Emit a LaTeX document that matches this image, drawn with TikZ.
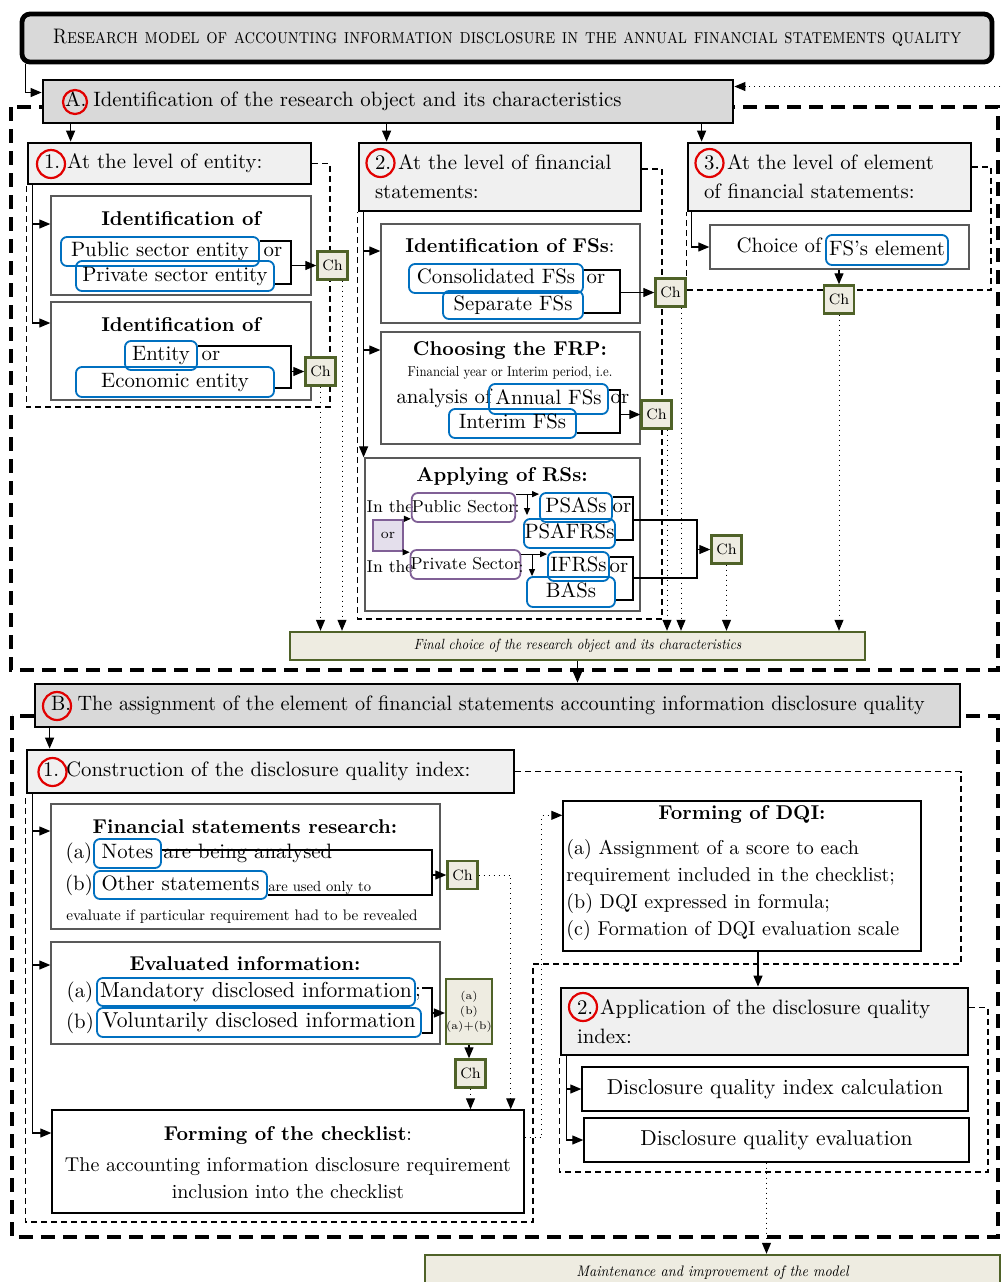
\documentclass[tikz,border=0pt]{standalone}
\usepackage{tikz}
\usetikzlibrary{arrows.meta,positioning,calc,fit,backgrounds}
\usepackage{xcolor}
\definecolor{hdgray}{RGB}{217,217,217}
\definecolor{hdlight}{RGB}{240,240,240}
\definecolor{chfill}{RGB}{238,236,225}
\definecolor{chgreen}{RGB}{79,98,40}
\definecolor{bxblue}{RGB}{0,112,192}
\definecolor{orpurple}{RGB}{128,96,150}
\definecolor{orfill}{RGB}{228,223,236}
\definecolor{ringred}{RGB}{225,0,0}

\begin{document}
\begin{tikzpicture}[x=0.5pt, y=-0.5pt,
    titlebox/.style={draw, line width=2.4pt, rounded corners=4pt, fill=hdgray, inner sep=0pt},
    hdr/.style={draw, line width=1.4pt, fill=hdlight, align=left, inner xsep=8pt, inner ysep=0pt,
        font={\fontsize{10.4}{14.5}\selectfont}},
    ring/.style={circle, draw=ringred, line width=1.1pt, minimum size=14pt, inner sep=0pt},
    inbox/.style={draw=black!65, line width=0.7pt, fill=white, inner sep=0pt,
        font={\fontsize{10.8}{13}\selectfont}},
    blu/.style={draw=bxblue, line width=0.9pt, rounded corners=3pt, inner sep=0pt,
        text height=1.5ex, text depth=.25ex, font={\fontsize{10.4}{12}\selectfont}},
    pur/.style={draw=orpurple, line width=0.9pt, rounded corners=3pt, inner sep=0pt,
        text height=1.5ex, text depth=.25ex, font={\fontsize{8.6}{10}\selectfont}},
    orbox/.style={draw=orpurple, line width=1.2pt, fill=orfill, minimum width=15pt,
        minimum height=15.5pt, inner sep=0pt, font={\fontsize{7}{8}\selectfont}},
    chbox/.style={draw=chgreen, line width=1.2pt, fill=chfill, minimum width=15pt,
        minimum height=14pt, inner sep=0pt, font={\fontsize{7.5}{9}\selectfont}},
    fbox/.style={draw=chgreen, line width=1.2pt, fill=chfill, inner sep=0pt,
        font={\fontsize{10}{12}\selectfont\itshape}},
    txt/.style={inner sep=0pt, text height=1.5ex, text depth=.25ex, font={\fontsize{10.4}{12}\selectfont}},
    rstxt/.style={txt, font={\fontsize{8.6}{10}\selectfont}},
    ttl/.style={inner sep=0pt, text height=1.5ex, text depth=.25ex, font={\fontsize{10}{12}\selectfont\bfseries}},
    note/.style={inner sep=0pt, font={\fontsize{10}{12}\selectfont}},
    mtxt/.style={inner sep=0pt, font={\fontsize{10}{13.5}\selectfont}},
    arr/.style={-{Triangle[length=5.5pt,width=4.5pt]}, line width=0.6pt},
    sarr/.style={-{Triangle[length=3.5pt,width=3pt]}, line width=0.5pt},
    conn/.style={line width=0.6pt},
    dotarr/.style={dotted, line width=0.5pt, -{Triangle[length=5.5pt,width=4.5pt]}},
    grpdash/.style={line width=0.6pt, dash pattern=on 3pt off 2pt},
    bigdash/.style={line width=1.8pt, dash pattern=on 7pt off 4pt}
]
    \useasboundingbox (0,0) rectangle (1001,1282);

    % Title and part A
    \node[titlebox, minimum width=485pt, minimum height=24pt] (title) at (507,38)
        {\scalebox{0.85}[1]{\fontsize{10.5}{12}\selectfont\textsc{Research model of accounting information disclosure in the annual financial statements quality}}};
    \node[hdr, fill=hdgray, inner xsep=11pt, text width=323pt, minimum height=21.5pt] (hdA) at (388,101.5)
        {A.\ Identification of the research object and its characteristics};
    \node[ring, minimum size=12pt] (ringA) at (75,102) {};

    % Three levels
    \node[hdr, text width=125.5pt, minimum height=20.5pt] (hdOne) at (169.5,163.5) {1.\ At the level of entity:};
    \node[hdr, text width=125pt, minimum height=34pt] (hdTwo) at (500,177) {2.\ At the level of financial\\statements:};
    \node[hdr, text width=125.5pt, minimum height=34pt] (hdThree) at (829.5,177) {3.\ At the level of element\\of financial statements:};
    \node[ring] (ringOne) at (51,164) {};
    \node[ring] (ringTwo) at (380.5,163) {};
    \node[ring] (ringThree) at (709.5,163) {};

    % Level of entity
    \node[inbox, fit={(51,196) (311,295)}] (idEnt) {};
    \node[ttl] (idEntT) at (181,220) {Identification of};
    \node[blu, minimum width=99pt, minimum height=14.5pt] (bPub) at (160,251.5) {Public sector entity};
    \node[txt] (orPub) at (273,251) {or};
    \node[blu, minimum width=99pt, minimum height=15pt] (bPriv) at (175,276) {Private sector entity};
    \node[inbox, fit={(51,302) (311,400)}] (idEco) {};
    \node[ttl] (idEcoT) at (181,326) {Identification of};
    \node[blu, minimum width=36pt, minimum height=14.5pt] (bEnt) at (161,355.5) {Entity};
    \node[txt] (orEnt) at (211,355) {or};
    \node[blu, minimum width=99pt, minimum height=15pt] (bEco) at (175,382) {Economic entity};
    \node[chbox] (chA) at (332.5,265.5) {Ch};
    \node[chbox] (chB) at (320.5,371.5) {Ch};

    % Level of financial statements
    \node[inbox, fit={(381,224) (640,323)}] (idFS) {};
    \node[ttl] (idFST) at (510,247) {Identification of FSs\textmd{:}};
    \node[blu, minimum width=87pt, minimum height=14.5pt] (bCons) at (496,278.5) {Consolidated FSs};
    \node[txt] (orCons) at (596,278) {or};
    \node[blu, minimum width=70pt, minimum height=14pt] (bSep) at (513,305) {Separate FSs};
    \node[inbox, fit={(381,332) (640,444)}] (frp) {};
    \node[ttl] (frpT) at (510,350) {Choosing the FRP:};
    \node[note] (frpNote) at (510,373) {\scalebox{0.64}[0.72]{Financial year or Interim period, i.e.}};
    \node[txt] (frpAn) at (444,398) {analysis of};
    \node[blu, minimum width=59.5pt, minimum height=15pt] (bAnn) at (548.5,399) {Annual FSs};
    \node[txt] (orAnn) at (620,398) {or};
    \node[blu, minimum width=63.5pt, minimum height=14.5pt] (bInt) at (512.5,423.5) {Interim FSs};
    \node[chbox] (chC) at (670.5,292.5) {Ch};
    \node[chbox] (chD) at (656.5,414.5) {Ch};

    % Reporting standards
    \node[inbox, fit={(365,458) (640,611)}] (rs) {};
    \node[ttl] (rsT) at (502,476) {Applying of RSs:};
    \node[rstxt] (inPub) at (390,507) {In the};
    \node[pur, minimum width=50.5pt, minimum height=14.5pt] (pPub) at (463.5,507.5) {Public Sector};
    \node[rstxt] (colPub) at (517,507) {:};
    \node[orbox] (pOr) at (388,535.5) {or};
    \node[rstxt] (inPriv) at (390,567) {In the};
    \node[pur, minimum width=52.5pt, minimum height=14.5pt] (pPriv) at (465.5,564.5) {Private Sector};
    \node[rstxt] (colPriv) at (521,567) {:};
    \node[blu, minimum width=36pt, minimum height=14.5pt] (bPSAS) at (576,507.5) {PSASs};
    \node[txt] (orPSAS) at (622,507) {or};
    \node[blu, minimum width=45.5pt, minimum height=14.5pt] (bPSAF) at (569.5,533.5) {PSAFRSs};
    \node[blu, minimum width=30.5pt, minimum height=14.5pt] (bIFRS) at (578.5,566.5) {IFRSs};
    \node[txt] (orIFRS) at (619,567) {or};
    \node[blu, minimum width=44pt, minimum height=15pt] (bBAS) at (571,592) {BASs};
    \node[chbox] (chE) at (726.5,549.5) {Ch};

    % Level of element
    \node[inbox, fit={(710,225) (969,269)}] (elem) {};
    \node[txt] (elemT) at (779,247) {Choice of};
    \node[blu, minimum width=61pt, minimum height=15pt] (bFSel) at (887,250) {FS's element};
    \node[chbox] (chH) at (839,299.5) {Ch};

    \node[fbox, minimum width=287.5pt, minimum height=14pt] (fA) at (577.5,646)
        {\scalebox{0.66}[0.74]{Final choice of the research object and its characteristics}};

    % Part B
    \node[hdr, fill=hdgray, text width=446.5pt, minimum height=21.5pt] (hdB) at (497.5,705.5)
        {\scalebox{0.97}[1]{B.\ The assignment of the element of financial statements accounting information disclosure quality}};
    \node[ring] (ringB) at (57,706) {};
    \node[hdr, text width=227.5pt, minimum height=21.5pt] (hdBOne) at (270.5,771.5)
        {1.\ Construction of the disclosure quality index:};
    \node[ring] (ringBOne) at (52.5,772) {};

    % Index construction
    \node[inbox, fit={(51,804) (440,929)}] (fsr) {};
    \node[ttl] (fsrT) at (245,828) {Financial statements research:};
    \node[txt] (fsrA) at (79,853) {(a)};
    \node[blu, minimum width=33.5pt, minimum height=14.5pt] (bNotes) at (127.5,853.5) {Notes};
    \node[txt, anchor=west] (fsrAn) at (163,853) {are being analysed};
    \node[txt] (fsrB) at (79,885) {(b)};
    \node[blu, minimum width=86.5pt, minimum height=14pt] (bOther) at (180.5,885) {Other statements};
    \node[note, anchor=west] (fsrUse) at (268,888) {\scalebox{0.73}{are used only to}};
    \node[note] (fsrEval) at (242,917) {\scalebox{0.76}{evaluate if particular requirement had to be revealed}};
    \node[chbox] (chF) at (462.5,875) {Ch};

    \node[inbox, fit={(51,942) (440,1044)}] (evi) {};
    \node[ttl] (eviT) at (245,965) {Evaluated information:};
    \node[txt] (eviA) at (80,992) {(a)};
    \node[blu, minimum width=159pt, minimum height=14pt, font={\fontsize{10.8}{12}\selectfont}] (bMand) at (256,992) {Mandatory disclosed information};
    \node[txt] (eviSc) at (418,991) {;};
    \node[txt] (eviB) at (80,1023) {(b)};
    \node[blu, minimum width=162pt, minimum height=14.5pt, font={\fontsize{10.8}{12}\selectfont}] (bVol) at (259,1022.5) {Voluntarily disclosed information};
    \node[chbox, minimum width=22pt, minimum height=32.5pt, align=center, font={\fontsize{5.5}{7.5}\selectfont}] (abc) at (469,1011.5) {(a)\\(b)\\(a)+(b)};
    \node[chbox] (chG) at (470.5,1073.5) {Ch};

    \node[inbox, draw=black, fit={(52,1110) (524,1213)}] (chk) {};
    \node[ttl] (chkT) at (288,1135) {Forming of the checklist\textmd{:}};
    \node[mtxt, align=center] (chkTxt) at (288,1178) {The accounting information disclosure requirement\\inclusion into the checklist};

    \node[inbox, draw=black, fit={(563,801) (921,951)}] (dqi) {};
    \node[ttl] (dqiT) at (742,814) {Forming of DQI:};
    \node[mtxt, align=left, anchor=west] (dqiTxt) at (566,890) {(a) Assignment of a score to each\\requirement included in the checklist;\\(b) DQI expressed in formula;\\(c) Formation of DQI evaluation scale};

    % Index application
    \node[hdr, text width=187.5pt, minimum height=33.5pt] (hdBTwo) at (764.5,1021.5) {2.\ Application of the disclosure quality\\index:};
    \node[ring] (ringBTwo) at (583,1007) {};
    \node[inbox, draw=black, minimum width=193pt, minimum height=22pt] (calc) at (775,1089) {Disclosure quality index calculation};
    \node[inbox, draw=black, minimum width=192.5pt, minimum height=22pt] (evq) at (776.5,1140) {Disclosure quality evaluation};

    \node[fbox, minimum width=287.5pt, minimum height=17.5pt] (maint) at (712.5,1272.5)
        {\scalebox{0.71}[0.76]{Maintenance and improvement of the model}};

    % Flow of part A
    \draw[arr] ([xshift=3pt]title.south west) |- ([yshift=4.5pt]hdA.west);
    \coordinate (aOne) at ([xshift=22pt]hdOne.north west);
    \coordinate (aTwo) at ([xshift=14.5pt]hdTwo.north west);
    \coordinate (aThree) at ([xshift=7.5pt]hdThree.north west);
    \draw[arr] (aOne |- hdA.south) -- (aOne);
    \draw[arr] (aTwo |- hdA.south) -- (aTwo);
    \draw[arr] (aThree |- hdA.south) -- (aThree);

    \coordinate (vOne) at ([xshift=3pt]hdOne.south west);
    \draw[arr] (vOne) |- (idEnt.west |- 0,224);
    \draw[arr] (vOne) |- (idEco.west |- 0,323);
    \coordinate (vTwo) at ([xshift=3pt]hdTwo.south west);
    \draw[arr] (vTwo) |- (idFS.west |- 0,251);
    \draw[arr] (vTwo) |- (frp.west |- 0,350);
    \draw[arr] (vTwo) -- (vTwo |- rs.north);
    \coordinate (vThree) at ([xshift=2.5pt]hdThree.south west);
    \draw[arr] (vThree) |- (elem.west);

    % Choice brackets
    \coordinate (brA) at (291,265.5);
    \draw[conn] (bPub.east |- 0,241) -| (brA) |- (bPriv.east |- 0,284);
    \draw[arr] (brA) -- (chA);
    \coordinate (brB) at (291,371.5);
    \draw[conn] (bEnt.east |- 0,346) -| (brB) |- (bEco.east |- 0,388);
    \draw[arr] (brB) -- (chB);
    \coordinate (brC) at (620,292.5);
    \draw[conn] (bCons.east |- 0,270) -| (brC) |- (bSep.east |- 0,313);
    \draw[arr] (brC) -- (chC);
    \coordinate (brD) at (620,414.5);
    \draw[conn] (bAnn.east |- 0,390) -| (brD) |- (bInt.east |- 0,433);
    \draw[arr] (brD) -- (chD);

    \draw[sarr] (pOr.north east) -- (pPub.west |- pOr.north);
    \draw[sarr] (pOr.south east) -- (pPriv.west |- pOr.south);
    \coordinate (tPub) at ([yshift=-1pt]pPub.north east);
    \draw[sarr] (tPub) -- (bPSAS.west |- tPub);
    \draw[sarr] (tPub -| 527,0) -- ++(0,-10.5pt);
    \coordinate (tPriv) at ([yshift=-2.5pt]pPriv.north east);
    \draw[sarr] (tPriv) -- (bIFRS.west |- tPriv);
    \draw[sarr] (tPriv -| 532,0) -- ++(0,-11pt);
    \coordinate (brPS) at (633,520);
    \draw[conn] (bPSAS.east |- 0,497) -| (brPS) |- (bPSAF.east |- 0,540);
    \coordinate (brPr) at (633,578);
    \draw[conn] (bIFRS.east |- 0,557) -| (brPr) |- (bBAS.east |- 0,600);
    \coordinate (brE) at (697,549.5);
    \draw[conn] (brPS) -| (brE) |- (brPr);
    \draw[arr] (brE) -- (chE);
    \draw[arr] (chH.north |- elem.south) -- (chH.north);

    % Towards the final choice
    \coordinate (dA) at ([xshift=4.75pt]chA.south);
    \coordinate (dC) at ([xshift=5.25pt]chC.south);
    \coordinate (dD) at ([xshift=5.25pt]chD.south);
    \draw[dotarr] (chB.south) -- (chB.south |- fA.north);
    \draw[dotarr] (dA) -- (dA |- fA.north);
    \draw[dotarr] (dD) -- (dD |- fA.north);
    \draw[dotarr] (dC) -- (dC |- fA.north);
    \draw[dotarr] (chE.south) -- (chE.south |- fA.north);
    \draw[dotarr] (chH.south) -- (chH.south |- fA.north);
    \draw[arr] (fA.south) -- (fA.south |- hdB.north);

    % Flow of part B
    \coordinate (aB) at ([xshift=12pt]hdBOne.north west);
    \draw[arr] (aB |- hdB.south) -- (aB);
    \coordinate (vBOne) at ([xshift=3.5pt]hdBOne.south west);
    \draw[arr] (vBOne) |- (fsr.west |- 0,831);
    \draw[arr] (vBOne) |- (evi.west |- 0,965);
    \draw[arr] (vBOne) |- (chk.west |- 0,1133);
    \coordinate (brF) at (432,875);
    \draw[conn] (bNotes.east |- 0,850) -| (brF) |- (bOther.east |- 0,895);
    \draw[arr] (brF) -- (chF);
    \coordinate (brG) at (432,1013);
    \draw[conn] (bVol.east |- 0,988) -| (brG) |- (bVol.east |- 0,1033);
    \draw[arr] (brG) -- (abc.west |- brG);
    \draw[arr] (abc.south) -- (abc.south |- chG.north);
    \draw[dotarr] (chG.south) -- (chG.south |- chk.north);
    \draw[dotarr] (chF.east) -| ([xshift=-7pt]chk.north east);
    \draw[dotarr] ([yshift=12pt]chk.east) -- ++(8.5pt,0) |- ([yshift=-7.5pt]dqi.north west);
    \coordinate (vDQI) at ([xshift=8pt]dqi.south);
    \draw[arr] (vDQI) -- (vDQI |- hdBTwo.north);
    \coordinate (vBTwo) at ([xshift=3.5pt]hdBTwo.south west);
    \draw[arr] (vBTwo) |- (calc.west);
    \draw[arr] (vBTwo) |- (evq.west);
    \coordinate (vEvq) at ([xshift=-5pt]evq.south);
    \draw[dotarr] (vEvq) -- (vEvq |- maint.north);

    % Feedback loop
    \draw[dotarr] (maint.east) -- ++(12pt,0) |- ([yshift=7.5pt]hdA.east);

    % Frames
    \begin{scope}[on background layer]
        \draw[bigdash] (11,107) rectangle (998,670);
        \draw[bigdash] (12,716) rectangle (998,1237);
        \draw[grpdash] (hdOne.east) -| (330,407) -| (hdOne.south west);
        \draw[grpdash] ([yshift=4pt]hdTwo.east) -| (662,619) -| (hdTwo.south west);
        \draw[grpdash] ([yshift=5pt]hdThree.east) -| (991,290) -| (hdThree.south west);
        \draw[grpdash] (hdBOne.east) -| (961,964) -| (533,1222) -| (hdBOne.south west);
        \draw[grpdash] ([yshift=7pt]hdBTwo.east) -| (988,1172) -| (hdBTwo.south west);
    \end{scope}
\end{tikzpicture}
\end{document}
